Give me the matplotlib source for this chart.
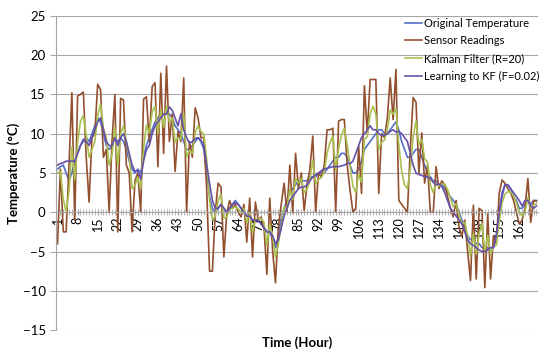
import matplotlib.pyplot as plt
import numpy as np

plt.rcParams['font.family'] = ['Lato', 'DejaVu Sans']

hours = list(range(1, 169))
tick_hours = list(range(1, 163, 7))

original = [5.5, 5.8, 6, 5, 4, 5, 6.5, 7.5, 8.5, 9,
            9.5, 9, 10, 11, 12, 11.5, 10, 8.5, 8, 8.5,
            9.5, 9, 9.5, 9, 8, 6.5, 5.5, 5, 5.5, 5,
            7, 8.5, 9.5, 10.5, 11.5, 12, 12.5, 12.5, 12.5, 12.5,
            12, 11, 10.5, 10, 9, 8, 8, 8.5, 9, 9.5,
            9, 8, 5, 2, 0.5, 0, 0.5, 1, 0.5, 0,
            0.5, 1, 1.5, 1, 0.5, 0, -0.5, -0.5, -1, -1,
            -1, -1.5, -2, -2.5, -2.5, -3.5, -4.5, -3, -1, 0.5,
            1.5, 2.5, 3, 3.5, 4, 4, 4, 4, 4.5, 4.5,
            4.5, 5, 5, 5, 5.5, 6, 6.5, 7, 7, 7.5,
            7.5, 7, 6, 5, 5, 5.5, 6.5, 8, 8.5, 9,
            9.5, 10, 10.5, 10.5, 10, 10, 10.5, 11, 11.5, 10.5,
            9, 8, 7, 7, 7.5, 8, 8, 7, 6, 5,
            4.5, 4, 4, 3.5, 3.5, 3, 2.5, 2, 1.5, 1,
            0, -1, -2, -3, -3.5, -3.5, -4, -4, -4.5, -4.5,
            -4.5, -5, -4.5, -3, 0, 2.5, 3.5, 3.5, 3, 2,
            1.5, 0.5, 0.5, 1, 1.5, 1, 1.5, 1.5]

sensor = [-4, 5.5, -2.5, -2.5, 6, 15.2, -1, 14.8, 15, 15.3,
          7, 1.3, 9.5, 10, 16.3, 15.6, 7, 8, 0, 9,
          15, -2.5, 14.5, 14.3, 6, 5, -2.5, 4, 5, 0,
          14.4, 14.7, 9, 16, 16.5, 5.8, 17.7, 7.5, 18.6, 9,
          12.5, 5.2, 10.3, 9, 17.1, 0, 9, 7, 13.3, 12,
          9.5, 9.5, 3, -7.5, -7.5, 0, 3.7, 3.2, -5.7, -0.2,
          1.5, 0.5, 1, 0, -0.6, 1, -3.8, 1.8, -5.7, 1.3,
          -1, -0.6, -2, -7.9, 1.8, -4.9, -9, -2, 1, 3.7,
          0, 6, -0.1, 7.5, 3, 5, 0.2, 3.5, 5.5, 9.7,
          0, 5, 4.5, 6, 10.5, 10.5, 10.7, 0, 11.6, 11.8,
          11.8, 6, 2.8, 0, 0.5, 8.4, 2.4, 16.1, 10, 16.9,
          16.9, 16.9, 2.4, 10, 9.5, 12, 17.1, 11.8, 18.2, 1.5,
          1, 0.5, 0, 8, 14.6, 14, 5, 10.1, 3.7, 6,
          0, 0, 5.8, 3, 4, 3.5, 2, 0.5, -0.6, 1.5,
          -2, -3, -1, -5, -8.7, 0.9, -8.5, 0.5, 0.2, -9.6,
          -0.2, -8.5, -3, -4, 2.4, 4.1, 3.7, 3, 2.5, 1.5,
          0, -1.5, -1, 0.5, 4.3, -1.3, 1.5, 1.4]

kalman = [5, 5.2, 1.7, 0, 2.7, 8.3, 4.1, 8.9, 11.6, 12.3,
          9.8, 7, 8, 9, 12.3, 13.8, 10.7, 9.5, 6, 7.3,
          10.8, 6, 10, 11, 9, 7.2, 3, 3.4, 4.5, 3,
          8.1, 11.1, 10.1, 12.8, 13.5, 10, 13, 10.8, 13.5, 11.5,
          12, 8.9, 9.5, 9.3, 12.5, 7, 7.9, 7.5, 10.1, 11,
          10.3, 9.9, 6.8, 1.5, -1, -0.5, 1.5, 2.3, -0.8, -0.6,
          0.4, 0.5, 0.7, 0.4, 0, 0.5, -1.4, 0, -2.6, -0.8,
          -0.9, -0.8, -1.3, -4.3, -1.5, -3.1, -5.7, -4, -1.8, 0.7,
          0.4, 2.9, 1.6, 4.3, 3.7, 4.3, 2.5, 2.9, 4.1, 6.6,
          3.6, 4.2, 4.4, 5.1, 7.5, 8.9, 9.7, 5.3, 8.1, 9.8,
          10.7, 8.6, 6, 3.3, 2.5, 4.9, 3.8, 9.3, 9.6, 12.5,
          13.5, 12.5, 8, 8.9, 9.2, 10.5, 13, 12.5, 13.2, 8.6,
          5.2, 3.5, 3, 5.5, 9.6, 11.6, 8.6, 9.3, 6.8, 6.4,
          3.5, 2.5, 3.6, 3.3, 3.6, 3.6, 2.9, 1.8, 0.7, 1.1,
          -0.3, -1.5, -1.3, -3, -5.6, -2.7, -5.3, -2.7, -1.4, -5.1,
          -2.9, -5.4, -4.3, -4.2, -1.2, 1.2, 2.3, 2.6, 2.6, 2.1,
          1.2, 0, -0.5, 0, 1.9, 0.5, 0.9, 1.1]

learning = [6, 6.2, 6.3, 6.5, 6.5, 6.5, 6.5, 7.5, 8.5, 9.3,
            9, 8.5, 9.5, 10.5, 11.5, 12, 10.5, 9, 8.5, 8.5,
            9.5, 8.5, 9.5, 10, 9, 7.5, 6, 5.2, 5.3, 4.2,
            6.5, 8, 8.5, 10, 11, 11.5, 12, 12.5, 12.5, 13.4,
            13, 12, 11, 12.5, 10.5, 9.5, 8.8, 9, 9.4, 9.5,
            9.2, 8.5, 6, 3.7, 1.5, 0.5, 0.5, 1, 0.5, 0,
            0.5, 1, 1.2, 1, 0.5, 0, -0.5, -0.5, -1, -1,
            -1, -1.5, -2, -2.5, -2.5, -3, -4, -3.5, -2, -0.5,
            0.5, 1.5, 2, 2.5, 3, 3.2, 3.2, 3.5, 4, 4.5,
            4.8, 5, 5.3, 5.5, 5.6, 5.7, 5.8, 5.8, 5.8, 5.9,
            6, 6.2, 6.2, 6.5, 7.5, 8.5, 9.5, 10, 10.5, 11,
            10.5, 10.5, 10, 9.8, 9.8, 10, 10.3, 10.5, 10.2, 10.3,
            10, 9.5, 9, 7.5, 6, 5, 4.8, 4.7, 4.5, 4.5,
            4.3, 3.8, 3.5, 3.6, 3.3, 2.5, 1.5, 0.5, 0, -0.5,
            -1, -1.5, -2.5, -3.5, -4, -4.2, -4.5, -4.8, -5, -5,
            -4.8, -4.5, -4.5, -3, 0, 2, 3.5, 3.5, 3, 2.5,
            2, 1.5, 0.8, 1.5, 1.5, 0.8, 0.5, 0.8]

fig = plt.figure(figsize=(5.5, 3.53), dpi=100)
ax = fig.add_axes([0.102, 0.065, 0.876, 0.89])

ax.plot(hours, original, color='#5470C6', lw=1.2, label='Original Temperature')
ax.plot(hours, sensor, color='#93502F', lw=1.2, label='Sensor Readings')
ax.plot(hours, kalman, color='#A9C04F', lw=1.2, label='Kalman Filter (R=20)')
ax.plot(hours, learning, color='#6650AA', lw=1.2, label='Learning to KF (F=0.02)')

ax.set_xlim(0.5, 168.5)
ax.set_ylim(-15, 25)
ax.set_yticks(range(-15, 26, 5))
ax.yaxis.grid(True, color='#A6A6A6', lw=0.8)
ax.set_axisbelow(True)

# category axis sits on y = 0
ax.spines['bottom'].set_position(('data', 0))
ax.spines['bottom'].set_color('#A6A6A6')
ax.spines['left'].set_color('#A6A6A6')
ax.spines['top'].set_visible(False)
ax.spines['right'].set_visible(False)

ax.set_xticks(tick_hours)
ax.set_xticklabels([str(h) for h in tick_hours], rotation=90, fontsize=9)
ax.set_xticks(hours, minor=True)
ax.tick_params(axis='x', which='both', direction='inout', length=4, color='#A6A6A6', pad=1)
ax.tick_params(axis='y', labelsize=9.5, length=4, color='#A6A6A6')

ax.set_xlabel('Time (Hour)', fontsize=9.5, fontweight='bold')
ax.xaxis.set_label_coords(0.5, -0.02)
ax.set_ylabel('Temperature (°C)', fontsize=9.5, fontweight='bold')
ax.yaxis.set_label_coords(-0.075, 0.5)

ax.legend(loc='upper left', bbox_to_anchor=(0.728, 0.963), bbox_transform=fig.transFigure,
          frameon=False, fontsize=8, handlelength=1.5, handletextpad=0.2,
          labelspacing=0.6, borderaxespad=0)

plt.savefig('out.png', dpi=100)
